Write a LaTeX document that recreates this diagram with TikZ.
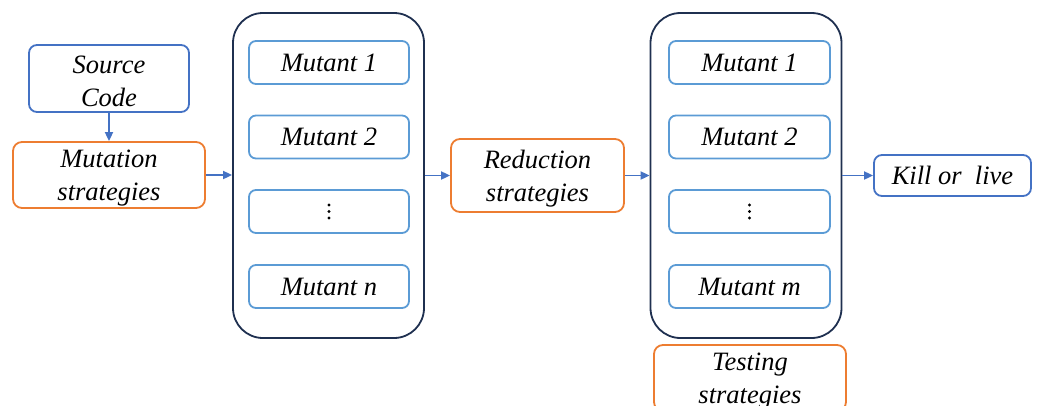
\documentclass[tikz,border=0pt]{standalone}
\usepackage{fontspec}
\setmainfont{Liberation Serif}
\usetikzlibrary{arrows.meta}
\definecolor{boxblue}{HTML}{4472C4}
\definecolor{boxorange}{HTML}{ED7D31}
\definecolor{navy}{HTML}{1F3050}
\definecolor{lightblue}{HTML}{5B9BD5}
\tikzset{
  txt/.style={font=\fontsize{26.5}{32.5}\selectfont\itshape, align=center, inner sep=0pt},
  srcbox/.style={txt, draw=boxblue, line width=1.8pt, rounded corners=8pt},
  stratbox/.style={txt, draw=boxorange, line width=1.8pt, rounded corners=9pt},
  groupbox/.style={draw=navy, line width=1.8pt, rounded corners=30pt, minimum width=191pt, minimum height=325pt, inner sep=0pt},
  mutbox/.style={txt, draw=lightblue, line width=1.8pt, rounded corners=7pt, minimum width=160pt, minimum height=43pt},
  flow/.style={draw=boxblue, line width=1.8pt, -{Triangle[length=9pt,width=8pt]}},
  dotmark/.style={fill=black, radius=1.7pt},
  twoline/.style={label={[txt,yshift=-3pt]center:{#1}}}
}
\begin{document}
\begin{tikzpicture}[x=1pt,y=-1pt]
\useasboundingbox (0,0) rectangle (1038,405);
\clip (0,0) rectangle (1038,405);

% input and mutation step
\node[srcbox, minimum width=160pt, minimum height=67pt, twoline={Source\\Code}] (src) at (109,78.5) {};
\node[stratbox, minimum width=192pt, minimum height=66pt, twoline={Mutation\\strategies}] (mut) at (109,175) {};

% first set of mutants
\node[groupbox] (g1) at (328.5,175.5) {};
\node[mutbox] (a1) at (329,62.5) {Mutant 1};
\node[mutbox] (a2) at (329,137) {Mutant 2};
\node[mutbox] (a3) at (329,211.5) {};
\node[mutbox] (an) at (329,286.5) {Mutant n};
\foreach \dy in {-6.5,0,6.5} \fill[dotmark] ([yshift=-\dy pt]a3.center) circle;

% reduction step
\node[stratbox, minimum width=173pt, minimum height=73pt, twoline={Reduction\\strategies}] (red) at (537.5,175.5) {};

% reduced set of mutants
\node[groupbox] (g2) at (746,175.5) {};
\node[mutbox, minimum width=161pt] (b1) at (749.5,62.5) {Mutant 1};
\node[mutbox, minimum width=161pt] (b2) at (749.5,137) {Mutant 2};
\node[mutbox, minimum width=161pt] (b3) at (749.5,211.5) {};
\node[mutbox, minimum width=161pt] (bm) at (749.5,286.5) {Mutant m};
\foreach \dy in {-6.5,0,6.5} \fill[dotmark] ([yshift=-\dy pt]b3.center) circle;

% testing and result
\node[stratbox, minimum width=192pt, minimum height=66pt, twoline={Testing\\strategies}] (test) at (750,378) {};
\node[srcbox, minimum width=157pt, minimum height=41pt] (kill) at (952.5,175.5) {Kill or\ \ live};

% connectors
\draw[flow] (src.south) -- (mut.north);
\draw[flow] (mut.east) -- (mut.east -| g1.west);
\draw[flow] (g1.east) -- (g1.east -| red.west);
\draw[flow] (red.east) -- (red.east -| g2.west);
\draw[flow] (g2.east) -- (g2.east -| kill.west);
\end{tikzpicture}
\end{document}
